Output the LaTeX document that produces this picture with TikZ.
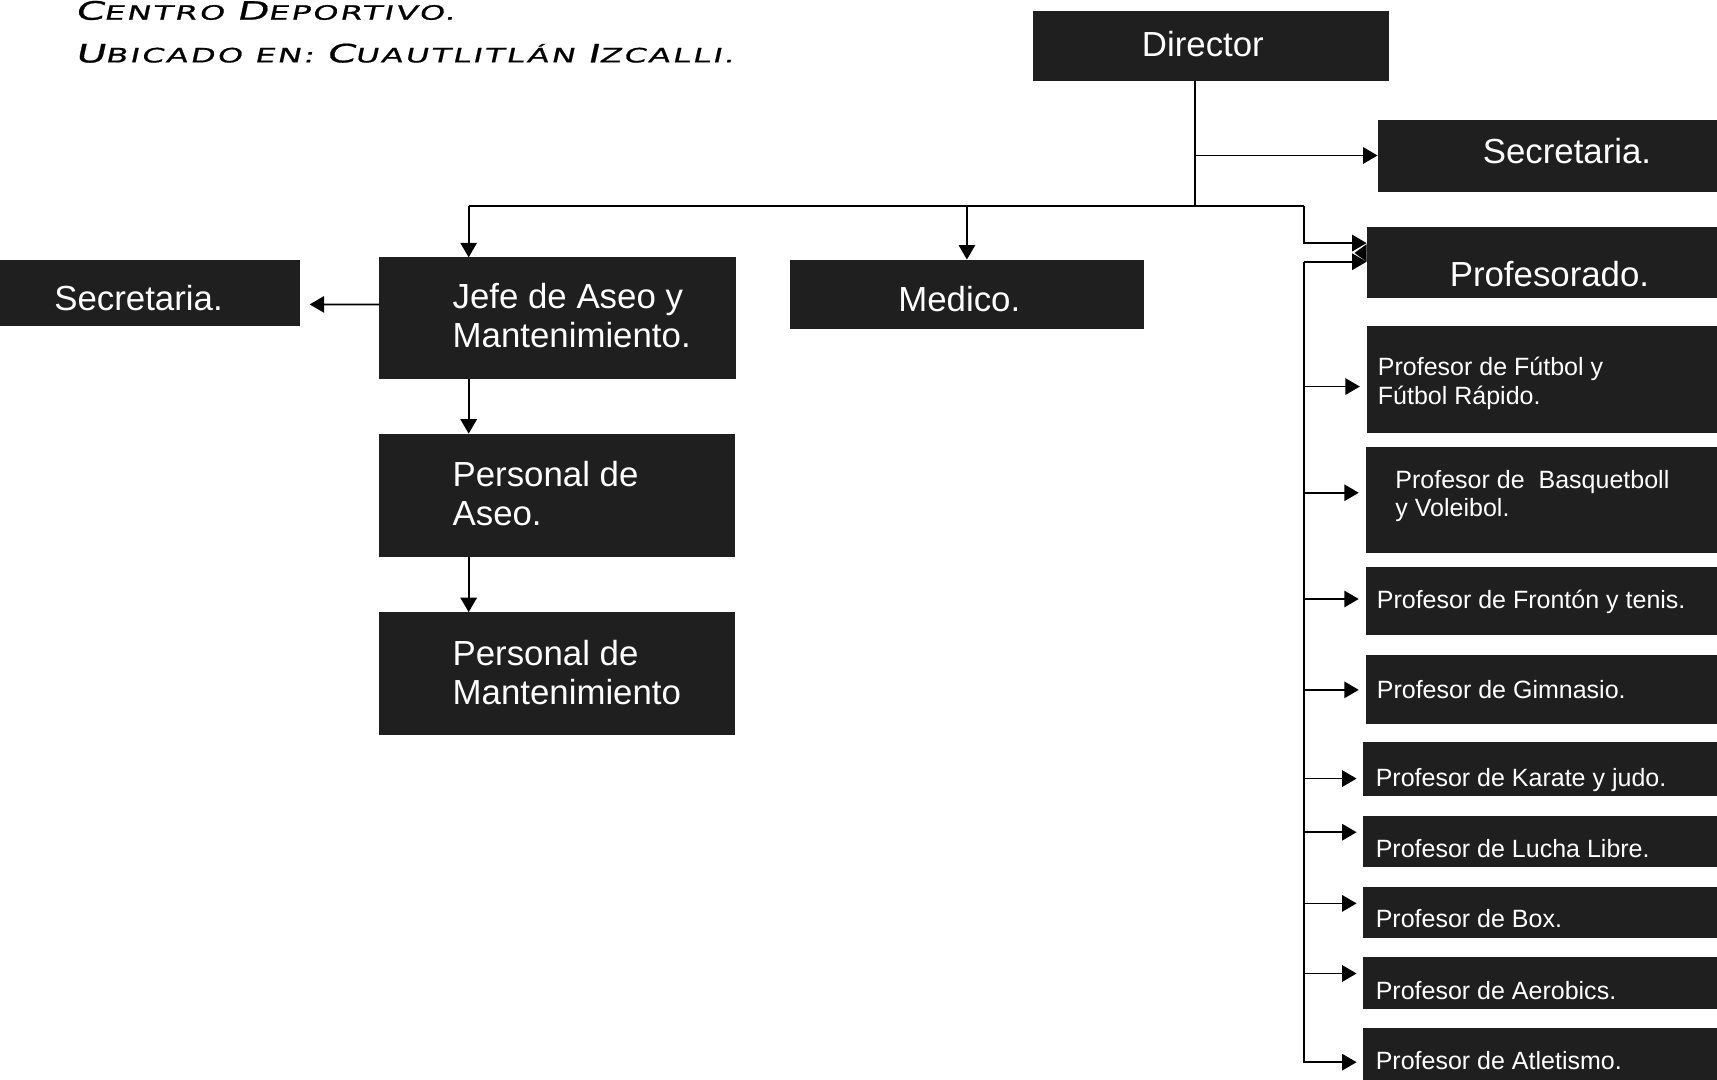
\documentclass[tikz,border=0pt]{standalone}
\usepackage{fontspec}
\setmainfont{Liberation Sans}
\newfontfamily\titlefont[FakeSlant=0.22,FakeStretch=1.62,LetterSpace=11,FakeBold=0.8]{DejaVu Sans}
\usetikzlibrary{arrows.meta,fit,calc}
\definecolor{boxfill}{gray}{0.12}
% two sizes for the small-caps heading
\newcommand\tcap{\fontsize{13.2pt}{13.2pt}\selectfont}
\newcommand\tsc{\fontsize{10.3pt}{10.3pt}\selectfont}

\tikzset{
  box/.style={fill=boxfill, draw=none, inner sep=0pt, outer sep=0pt},
  big/.style={text=white, inner sep=0pt, font=\fontsize{18.1pt}{20.2pt}\selectfont},
  small/.style={text=white, inner sep=0pt, font=\fontsize{13pt}{14.7pt}\selectfont},
  multi/.style={align=left, anchor=west},
  heading/.style={inner sep=0pt, anchor=base west, font=\titlefont},
  link/.style={line width=0.9pt, draw=black},
  arr/.style={link, -{Triangle[length=7.5pt,width=8.5pt]}},
  colarr/.style={arr, shorten >=3.5pt},
}

\begin{document}
\begin{tikzpicture}[x=0.02cm, y=0.02cm]
\useasboundingbox (0,0) rectangle (1568,-986);

% heading
\node[heading] (title1) at (68,-18) {\tcap C\tsc ENTRO \tcap D\tsc EPORTIVO.};
\node[heading] (title2) at (68,-57) {\tcap U\tsc BICADO EN: \tcap C\tsc UAUTLITLÁN \tcap I\tsc ZCALLI.};

% boxes
\node[box, fit={(943,-10)(1268,-74)}] (dir) {};
\node[box, fit={(1258,-110)(1568,-175)}] (sec1) {};
\node[box, fit={(1248,-207)(1568,-272)}] (prof) {};
\node[box, fit={(0,-237)(274,-298)}] (sec2) {};
\node[box, fit={(346,-235)(672,-346)}] (jefe) {};
\node[box, fit={(721,-237)(1045,-300)}] (med) {};
\node[box, fit={(346,-396)(671,-509)}] (aseo) {};
\node[box, fit={(346,-559)(671,-671)}] (mant) {};
\node[box, fit={(1248,-298)(1568,-395)}] (fut) {};
\node[box, fit={(1247,-408)(1568,-505)}] (bas) {};
\node[box, fit={(1247,-518)(1568,-580)}] (fro) {};
\node[box, fit={(1247,-598)(1568,-661)}] (gim) {};
\node[box, fit={(1245,-678)(1568,-727)}] (kar) {};
\node[box, fit={(1245,-745)(1568,-792)}] (luc) {};
\node[box, fit={(1245,-810)(1568,-857)}] (boxe) {};
\node[box, fit={(1245,-874)(1568,-921)}] (aer) {};
\node[box, fit={(1245,-939)(1568,-990)}] (atl) {};

% box texts
\node[big, anchor=base] (dir-t) at (1098.5,-51.5) {Director};
\node[big, anchor=base] (sec1-t) at (1431,-149.5) {Secretaria.};
\node[big, anchor=base] (prof-t) at (1415,-261.5) {Profesorado.};
\node[big, anchor=base] (sec2-t) at (126.5,-283.5) {Secretaria.};
\node[big, anchor=base] (med-t) at (876,-284.5) {Medico.};
\node[big, multi] (jefe-t) at (413,-288.5) {Jefe de Aseo y\\Mantenimiento.};
\node[big, multi] (aseo-t) at (413,-451) {Personal de\\Aseo.};
\node[big, multi] (mant-t) at (413,-614) {Personal de\\Mantenimiento};
\node[small, multi] (fut-t) at (1258,-350) {Profesor de Fútbol y\\Fútbol Rápido.};
\node[small, multi] (bas-t) at (1274,-453) {Profesor de~ Basquetboll\\y Voleibol.};
\node[small, anchor=base west] (fro-t) at (1257,-556) {Profesor de Frontón y tenis.};
\node[small, anchor=base west] (gim-t) at (1257,-638) {Profesor de Gimnasio.};
\node[small, anchor=base west] (kar-t) at (1256,-718) {Profesor de Karate y judo.};
\node[small, anchor=base west] (luc-t) at (1256,-783) {Profesor de Lucha Libre.};
\node[small, anchor=base west] (boxe-t) at (1256,-847) {Profesor de Box.};
\node[small, anchor=base west] (aer-t) at (1256,-913) {Profesor de Aerobics.};
\node[small, anchor=base west] (atl-t) at (1256,-977) {Profesor de Atletismo.};

% junction points of the connectors
\coordinate (bus-l) at (428,-188);
\coordinate (bus-m) at (1091,-188);
\coordinate (bus-r) at (1191,-188);
\coordinate (sec-j) at (1091,-142);
\coordinate (col-top) at (1191,-239);

% connectors
\draw[link] (dir.south -| bus-m) -- (bus-m);
\draw[arr] (sec-j) -- (sec1.west |- sec-j);
\draw[link] (bus-l) -- (bus-r);
\draw[arr] (bus-r) |- ($(prof.west)+(0,17.5)$);
\draw[arr] (bus-l) -- (jefe.north -| bus-l);
\draw[arr] (med.north |- bus-l) -- (med.north);
\draw[arr, shorten >=5pt] ($(jefe.west)+(0,12.5)$) -- (sec2.east |- 0,-278);
\draw[arr] (jefe.south -| bus-l) -- (aseo.north -| bus-l);
\draw[arr] (aseo.south -| bus-l) -- (mant.north -| bus-l);

\draw[arr] (col-top) -- (prof.west |- col-top);
\fill ($(prof.west)+(0,16.5)$) -- ($(prof.west)+(-11,8.5)$) -- ($(prof.west)+(0,0.5)$) -- cycle;
\draw[colarr] (col-top) |- (atl.west |- 0,-970);
\foreach \n/\y in {fut/353, bas/450, fro/547, gim/630, kar/711, luc/760, boxe/825, aer/889}
  \draw[colarr] (col-top |- 0,-\y) -- (\n.west |- 0,-\y);
\end{tikzpicture}
\end{document}
